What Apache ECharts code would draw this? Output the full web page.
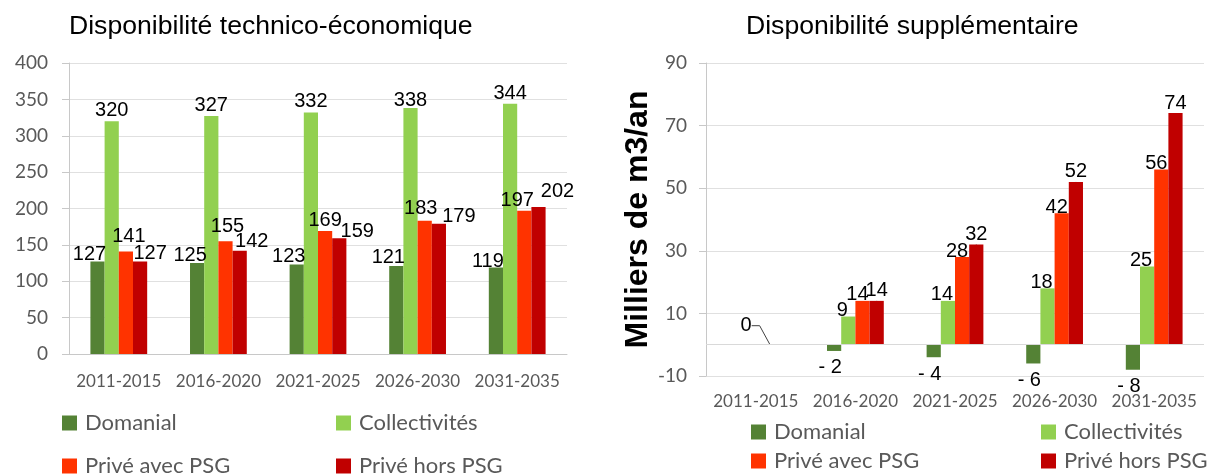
<!DOCTYPE html>
<html>
<head>
<meta charset="utf-8">
<script src="https://cdn.jsdelivr.net/npm/echarts@6/dist/echarts.min.js"></script>
<style>
html,body{margin:0;padding:0;background:#fff;}
#main{width:1212px;height:475px;}
</style>
</head>
<body>
<div id="main"></div>
<script>
// ---- data ----
const categories = ['2011-2015', '2016-2020', '2021-2025', '2026-2030', '2031-2035'];
const seriesNames = ['Domanial', 'Collectivités', 'Privé avec PSG', 'Privé hors PSG'];
// Disponibilité technico-économique
const dispoDomanial = [127, 125, 123, 121, 119];
const dispoCollectivites = [320, 327, 332, 338, 344];
const dispoPriveAvecPSG = [141, 155, 169, 183, 197];
const dispoPriveHorsPSG = [127, 142, 159, 179, 202];
// Disponibilité supplémentaire
const suppDomanial = [0, -2, -4, -6, -8];
const suppCollectivites = [0, 9, 14, 18, 25];
const suppPriveAvecPSG = [0, 14, 28, 42, 56];
const suppPriveHorsPSG = [0, 14, 32, 52, 74];
// axes
const leftAxis = { min: 0, max: 400, interval: 50 };
const rightAxis = { min: -10, max: 90, interval: 20 };
const titles = ['Disponibilité technico-économique', 'Disponibilité supplémentaire'];
const yAxisName = 'Milliers de m3/an';

// ---- styles ----
const colors = ['#548235', '#92D050', '#FF3300', '#C00000'];
const axisFont = 'Lato, "Open Sans", sans-serif';
const labelFont = '"Liberation Sans", Arial, sans-serif';
const gray = '#595959';
// label nudges (px) reproducing the reference's label placement
const leftLabelDx = [[-8, -7, -8, -8, -8], [0, 0, 0, 0, 0], [3, 2, 0, -4, -7], [10, 12, 18, 20, 19]];
const leftLabelDy = [[3, 2, 2, 2, 4], [-1, -1, -1, 2, 0], [-5, -5, -1, -2, 0], [2, 1, 3, 3, -6]];
const rightLabelDx = [-4, -6, -5, 8];
const zeroLabelShift = { dx: -31, dy: -9 };

const chart = echarts.init(document.getElementById('main'));

const leftData = [dispoDomanial, dispoCollectivites, dispoPriveAvecPSG, dispoPriveHorsPSG];
const rightData = [suppDomanial, suppCollectivites, suppPriveAvecPSG, suppPriveHorsPSG];

const series = [];
leftData.forEach((d, i) => {
  series.push({
    type: 'bar', name: seriesNames[i], xAxisIndex: 0, yAxisIndex: 0,
    data: d.map((v, j) => ({ value: v, label: { offset: [leftLabelDx[i][j], leftLabelDy[i][j]] } })),
    barGap: '0%', barCategoryGap: '43%',
    itemStyle: { color: colors[i] },
    label: {
      show: true, position: 'top', distance: 0,
      color: '#000', fontFamily: labelFont, fontSize: 20
    }
  });
});
rightData.forEach((d, i) => {
  const s = {
    type: 'bar', name: seriesNames[i], data: d, xAxisIndex: 1, yAxisIndex: 1,
    barGap: '0%', barCategoryGap: '43%',
    itemStyle: { color: colors[i] },
    label: {
      show: true, position: i === 0 ? 'bottom' : 'top', distance: 0,
      offset: [rightLabelDx[i], i === 0 ? 7 : 4],
      color: '#000', fontFamily: labelFont, fontSize: 20,
      formatter: function (p) {
        if (p.dataIndex === 0) return i === 3 ? String(p.value) : '';
        return p.value < 0 ? '- ' + Math.abs(p.value) : String(p.value);
      }
    }
  };
  if (i === 3) {
    s.labelLayout = function (p) {
      if (p.dataIndex !== 0) return {};
      return { dx: zeroLabelShift.dx, dy: zeroLabelShift.dy };
    };
    s.labelLine = { show: true, length2: 8, smooth: false, lineStyle: { color: '#404040', width: 1 } };
  }
  if (i === 0) {
    s.markLine = {
      silent: true, symbol: ['none', 'none'], label: { show: false },
      lineStyle: { color: '#d9d9d9', type: 'solid', width: 1 },
      data: [{ yAxis: 0 }]
    };
  }
  series.push(s);
});

function legend(name, left, top) {
  return {
    data: [name], left: left, top: top, padding: 0, itemWidth: 15, itemHeight: 15,
    icon: 'rect', selectedMode: false,
    textStyle: { color: gray, fontFamily: axisFont, fontSize: 22, padding: [0, 0, 0, 3] }
  };
}

const option = {
  animation: false,
  color: colors,
  title: [
    { text: titles[0], left: 69, top: 13, padding: 0,
      textStyle: { fontFamily: labelFont, fontSize: 26.6, fontWeight: 'normal', color: '#000' } },
    { text: titles[1], left: 746, top: 13, padding: 0,
      textStyle: { fontFamily: labelFont, fontSize: 26.6, fontWeight: 'normal', color: '#000' } }
  ],
  legend: [
    legend(seriesNames[0], 62, 412),
    legend(seriesNames[1], 336, 412),
    legend(seriesNames[2], 62, 455),
    legend(seriesNames[3], 336, 455),
    legend(seriesNames[0], 751, 421),
    legend(seriesNames[1], 1041, 421),
    legend(seriesNames[2], 751, 450),
    legend(seriesNames[3], 1041, 450)
  ],
  grid: [
    { left: 69, right: 645, top: 63, bottom: 121, outerBoundsMode: 'none' },
    { left: 706, right: 8, top: 63, bottom: 99, outerBoundsMode: 'none' }
  ],
  xAxis: [
    {
      type: 'category', data: categories, gridIndex: 0,
      axisLine: { lineStyle: { color: '#c8c8c8' } }, axisTick: { show: false },
      axisLabel: { color: gray, fontFamily: axisFont, fontSize: 17, margin: 19, interval: 0 }
    },
    {
      type: 'category', data: categories, gridIndex: 1,
      axisLine: { show: false, onZero: false }, axisTick: { show: false },
      axisLabel: { color: gray, fontFamily: axisFont, fontSize: 17, margin: 17, interval: 0 }
    }
  ],
  yAxis: [
    {
      type: 'value', gridIndex: 0, min: leftAxis.min, max: leftAxis.max, interval: leftAxis.interval,
      axisLine: { show: true, lineStyle: { color: '#c8c8c8' } },
      axisTick: { show: true, length: 7, lineStyle: { color: '#c8c8c8' } },
      splitLine: { lineStyle: { color: '#e0e0e0' } },
      axisLabel: { color: gray, fontFamily: axisFont, fontSize: 19, margin: 21 }
    },
    {
      type: 'value', gridIndex: 1, min: rightAxis.min, max: rightAxis.max, interval: rightAxis.interval,
      name: yAxisName, nameLocation: 'middle', nameGap: 50,
      nameTextStyle: { fontFamily: labelFont, fontSize: 32, fontWeight: 'bold', color: '#000' },
      axisLine: { show: true, lineStyle: { color: '#c8c8c8' } },
      axisTick: { show: true, length: 7, lineStyle: { color: '#c8c8c8' } },
      splitLine: { lineStyle: { color: '#e0e0e0' } },
      axisLabel: { color: gray, fontFamily: axisFont, fontSize: 19, margin: 19 }
    }
  ],
  series: series
};
chart.setOption(option);
</script>
</body>
</html>
